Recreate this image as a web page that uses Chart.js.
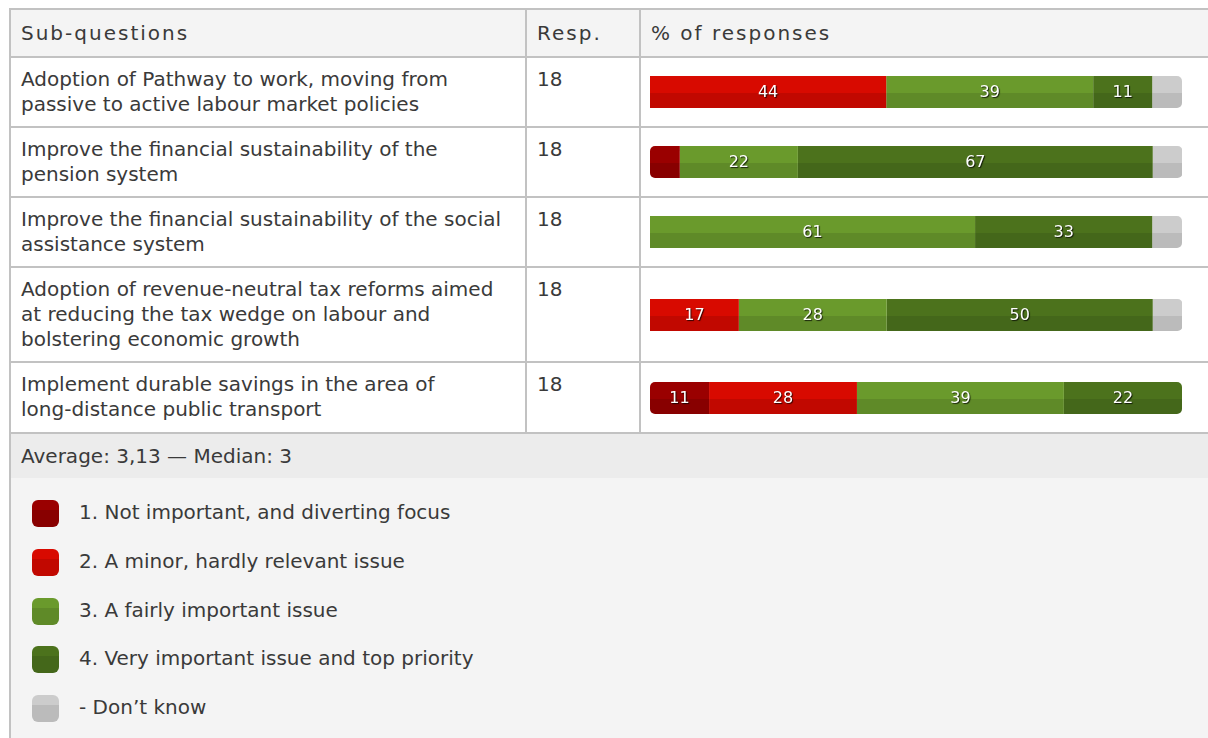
<!DOCTYPE html>
<html>
<head>
<meta charset="utf-8">
<script src="https://cdn.jsdelivr.net/npm/chart.js@4.4.1/dist/chart.umd.min.js"></script>
<style>
  html, body { margin: 0; padding: 0; background: #fff; width: 1208px; height: 738px; overflow: hidden; }
  body { font-family: "DejaVu Sans", sans-serif; color: #3a3a3a; position: relative; }
  #wrap { position: absolute; left: 9px; top: 8px; width: 1240px; }
  table { border-collapse: collapse; width: 1240px; table-layout: fixed; font-size: 20px; }
  td, th { border-top: 2px solid #c2c2c2; border-bottom: 2px solid #c2c2c2; border-left: 1px solid #d0d0d0; border-right: 1px solid #d0d0d0; vertical-align: top; padding: 9px 10px 0 10px; text-align: left; font-weight: normal; line-height: 25px; box-sizing: border-box; white-space: nowrap; overflow: hidden; }
  th { background: #f4f4f4; vertical-align: middle; padding-top: 0; letter-spacing: 2px; }
  tr.first td, tr.first th { border-left: 2px solid #c2c2c2; }
  td.bar { vertical-align: middle; padding: 0 0 0 9px; }
  td.bar canvas { display: block; }
  tr.avg td { background: #ececec; vertical-align: middle; padding-top: 0; border-left: 2px solid #c2c2c2; }
  #legend { position: absolute; left: 9px; top: 478px; width: 1240px; height: 300px; background: #f4f4f4; border-left: 2px solid #c2c2c2; box-sizing: border-box; }
  .li { position: absolute; left: 21px; height: 27px; font-size: 20px; line-height: 27px; }
  .sw { position: absolute; left: 0; top: 0; width: 27px; height: 27px; border-radius: 6px; }
  .lt { position: absolute; left: 47px; top: -1px; white-space: nowrap; }
</style>
</head>
<body>
<div id="wrap"></div>
<div id="legend"></div>
<script>
// ---- data ----
const headers = ['Sub-questions', 'Resp.', '% of responses'];
const subQuestions = [
  ['Adoption of Pathway to work, moving from', 'passive to active labour market policies'],
  ['Improve the financial sustainability of the', 'pension system'],
  ['Improve the financial sustainability of the social', 'assistance system'],
  ['Adoption of revenue-neutral tax reforms aimed', 'at reducing the tax wedge on labour and', 'bolstering economic growth'],
  ['Implement durable savings in the area of', 'long-distance public transport']
];
const respCounts = [18, 18, 18, 18, 18];
const seriesLabels = [
  '1. Not important, and diverting focus',
  '2. A minor, hardly relevant issue',
  '3. A fairly important issue',
  '4. Very important issue and top priority',
  '- Don\u2019t know'
];
const notImportant    = [0,    5.6,  0,    0,    11.1];
const minorIssue      = [44.4, 0,    0,    16.7, 27.8];
const fairlyImportant = [38.9, 22.2, 61.1, 27.8, 38.9];
const veryImportant   = [11.1, 66.7, 33.3, 50.0, 22.2];
const dontKnow        = [5.6,  5.6,  5.6,  5.6,  0];
const summaryText = 'Average: 3,13 \u2014 Median: 3';

// ---- styles ----
const seriesData = [notImportant, minorIssue, fairlyImportant, veryImportant, dontKnow];
const topColors = ['#9a0000', '#d80a00', '#6a9a2c', '#4c721c', '#cccccc'];
const bottomColors = ['#880000', '#c10800', '#5f8a28', '#44671a', '#bbbbbb'];
const rowHeights = [70, 70, 70, 95, 71];

// ---- table ----
const wrap = document.getElementById('wrap');
const table = document.createElement('table');
const cg = document.createElement('colgroup');
[516, 114, 610].forEach(w => { const c = document.createElement('col'); c.style.width = w + 'px'; cg.appendChild(c); });
table.appendChild(cg);
const hr = document.createElement('tr');
hr.className = 'first';
hr.style.height = '48px';
headers.forEach((h, i) => { const th = document.createElement('th'); th.textContent = h; hr.appendChild(th); });
table.appendChild(hr);

const canvases = [];
subQuestions.forEach((q, i) => {
  const tr = document.createElement('tr');
  tr.className = 'first';
  tr.style.height = rowHeights[i] + 'px';
  const t1 = document.createElement('td');
  q.forEach((line, k) => { if (k) t1.appendChild(document.createElement('br')); t1.appendChild(document.createTextNode(line)); });
  const t2 = document.createElement('td');
  t2.textContent = respCounts[i];
  const t3 = document.createElement('td');
  t3.className = 'bar';
  const cv = document.createElement('canvas');
  cv.width = 532; cv.height = 32;
  cv.style.width = '532px'; cv.style.height = '32px';
  t3.appendChild(cv);
  canvases.push(cv);
  tr.appendChild(t1); tr.appendChild(t2); tr.appendChild(t3);
  table.appendChild(tr);
});
const ar = document.createElement('tr');
ar.className = 'avg';
ar.style.height = '46px';
const atd = document.createElement('td');
atd.colSpan = 3;
atd.textContent = summaryText;
ar.appendChild(atd);
table.appendChild(ar);
wrap.appendChild(table);

// ---- legend ----
const legend = document.getElementById('legend');
seriesLabels.forEach((lab, i) => {
  const d = document.createElement('div');
  d.className = 'li';
  d.style.top = (22 + i * 48.75) + 'px';
  const sw = document.createElement('div');
  sw.className = 'sw';
  sw.style.background = 'linear-gradient(to bottom, ' + topColors[i] + ' 0%, ' + topColors[i] + ' 38%, ' + bottomColors[i] + ' 38%, ' + bottomColors[i] + ' 100%)';
  const t = document.createElement('span');
  t.className = 'lt';
  t.textContent = lab;
  d.appendChild(sw); d.appendChild(t);
  legend.appendChild(d);
});

// ---- charts ----
const valueLabels = {
  id: 'valueLabels',
  afterDatasetsDraw(chart) {
    const ctx = chart.ctx;
    ctx.save();
    ctx.font = '16px "DejaVu Sans", sans-serif';
    ctx.textAlign = 'center';
    ctx.textBaseline = 'middle';
    chart.data.datasets.forEach((ds, di) => {
      if (di === 4) return;
      const meta = chart.getDatasetMeta(di);
      meta.data.forEach((el, j) => {
        const v = ds.data[j];
        if (!v || v < 8) return;
        const p = el.getProps(['x', 'base', 'y'], true);
        const cx = (p.x + p.base) / 2;
        ctx.shadowColor = 'rgba(0,0,0,0.75)';
        ctx.shadowOffsetX = 1;
        ctx.shadowOffsetY = 1;
        ctx.shadowBlur = 1;
        ctx.fillStyle = '#ffffff';
        ctx.fillText(String(Math.round(v)), cx, p.y + 1);
      });
    });
    ctx.restore();
  }
};

function twoTone(i) {
  return (c) => {
    const chart = c.chart;
    const a = chart.chartArea;
    if (!a) return topColors[i];
    const g = chart.ctx.createLinearGradient(0, a.top, 0, a.bottom);
    g.addColorStop(0, topColors[i]);
    g.addColorStop(0.53, topColors[i]);
    g.addColorStop(0.53, bottomColors[i]);
    g.addColorStop(1, bottomColors[i]);
    return g;
  };
}

canvases.forEach((cv, row) => {
  const vals = seriesData.map(s => s[row]);
  let lastNonZero = -1;
  vals.forEach((v, k) => { if (v > 0) lastNonZero = k; });
  const datasets = seriesData.map((s, i) => ({
    label: seriesLabels[i],
    data: [s[row] > 0 ? s[row] : null],
    backgroundColor: twoTone(i),
    borderWidth: 0,
    borderSkipped: false,
    inflateAmount: 0,
    borderRadius: () => {
      const on = s[row] > 0;
      const l = (on && i === 0) ? 5 : 0;
      const r = (on && i === lastNonZero) ? 5 : 0;
      return { topLeft: l, bottomLeft: l, topRight: r, bottomRight: r };
    },
    barPercentage: 1,
    categoryPercentage: 1
  }));
  new Chart(cv, {
    type: 'bar',
    data: { labels: [subQuestions[row].join(' ')], datasets },
    options: {
      indexAxis: 'y',
      responsive: false,
      animation: false,
      layout: { padding: 0 },
      plugins: { legend: { display: false }, tooltip: { enabled: false } },
      scales: {
        x: { stacked: true, min: 0, max: 100, display: false },
        y: { stacked: true, display: false }
      }
    },
    plugins: [valueLabels]
  });
});
</script>
</body>
</html>
